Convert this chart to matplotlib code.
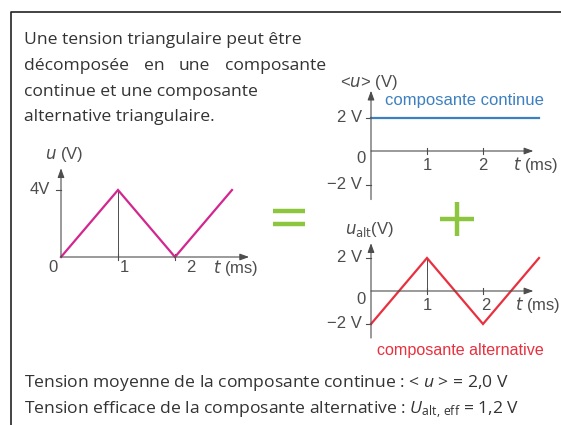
import matplotlib
matplotlib.use('Agg')
import matplotlib.pyplot as plt
from matplotlib.lines import Line2D

W, H = 561, 425
plt.rcParams['mathtext.fontset'] = 'custom'
plt.rcParams['mathtext.rm'] = 'Open Sans'
plt.rcParams['mathtext.it'] = 'Open Sans:italic'

# signals: t in ms, u in V
t_tri = [0, 1, 2, 3]
u_tri = [0, 4, 0, 4]
t_dc = [0, 3]
u_dc = [2, 2]
t_alt = [0, 1, 2, 3]
u_alt = [-2, 2, -2, 2]

intro = ["Une tension triangulaire peut être",
         "décomposée en une composante",
         "continue et une composante",
         "alternative triangulaire."]
results = [r"Tension moyenne de la composante continue : < $u$ > = 2,0 V",
           r"Tension efficace de la composante alternative : $U_{\mathrm{alt,\,eff}}$ = 1,2 V"]

MAGENTA = '#d2278e'
BLUE = '#3d80c2'
RED = '#e8303e'
GREEN = '#8cc63f'
AXIS = '#4d4d4d'
TEXT = '#333333'
NARROW = ['Liberation Sans Narrow', 'Liberation Sans', 'DejaVu Sans']
BODY = ['Open Sans', 'DejaVu Sans']
BODY_SIZE = 12.6

fig = plt.figure(figsize=(W / 100, H / 100), dpi=100)
fig.patch.set_facecolor('white')


def fx(x):
    return x / W


def fy(y):
    return 1 - y / H


def panel(x0, y0, sx, sy, xlim, ylim):
    # data (0, 0) sits on pixel (x0, y0); sx, sy are pixels per unit
    left = x0 + xlim[0] * sx
    right = x0 + xlim[1] * sx
    top = y0 - ylim[1] * sy
    bottom = y0 - ylim[0] * sy
    ax = fig.add_axes([fx(left), fy(bottom), (right - left) / W, (bottom - top) / H])
    ax.set_xlim(xlim)
    ax.set_ylim(ylim)
    ax.axis('off')
    ax.sx, ax.sy = sx, sy
    return ax


def frame(ax, xmax, ymin, ymax, yticks, xticks):
    kw = dict(arrowstyle='-|>,head_length=0.55,head_width=0.2', color=AXIS,
              lw=0.8, shrinkA=0, shrinkB=0)
    ax.annotate('', xy=(xmax, 0), xytext=(0, 0), arrowprops=kw, annotation_clip=False)
    ax.annotate('', xy=(0, ymax), xytext=(0, ymin), arrowprops=kw, annotation_clip=False)
    dx = 5 / ax.sx
    dy = 3 / ax.sy
    for v in yticks:
        ax.plot([-dx, 0], [v, v], color=AXIS, lw=0.8)
    for t in xticks:
        ax.plot([t, t], [-dy, dy], color=AXIS, lw=0.8)


def label(ax, x, y, s, ha='left', size=12, color=AXIS, **kw):
    ax.text(x, y, s, ha=ha, va='center', fontsize=size, color=color,
            family=NARROW, math_fontfamily='dejavusans', **kw)


# left: triangular voltage u(t)
ax1 = panel(61, 257, 57, 16.75, (-0.6, 3.6), (-1.2, 6.6))
frame(ax1, 3.3, 0, 5.3, [4], [1, 2])
ax1.plot([1, 1], [0, 4], color=AXIS, lw=0.7)
ax1.plot(t_tri, u_tri, color=MAGENTA, lw=1.6, solid_joinstyle='miter')
label(ax1, -0.28, 6.1, r"$u$ (V)")
label(ax1, -0.2, 4, "4V", ha='right')
label(ax1, -0.06, -0.65, "0", ha='right')
label(ax1, 1.11, -0.65, "1", ha='center')
label(ax1, 2.28, -0.65, "2", ha='center')
label(ax1, 2.67, -0.65, r"$t$ (ms)")

# top right: DC component
ax2 = panel(371, 151, 56, 16.75, (-0.7, 3.4), (-3.2, 4.6))
frame(ax2, 2.9, -2.9, 3.6, [2, -2], [1, 2])
ax2.plot(t_dc, u_dc, color=BLUE, lw=1.6)
label(ax2, -0.55, 4.1, r"<$u$> (V)")
label(ax2, 0.25, 3.0, "composante continue", size=12, color=BLUE)
label(ax2, -0.16, 2, "2 V", ha='right')
label(ax2, -0.1, -0.45, "0", ha='right')
label(ax2, -0.16, -2, "−2 V", ha='right')
label(ax2, 1, -0.85, "1", ha='center')
label(ax2, 2, -0.85, "2", ha='center')
label(ax2, 2.54, -0.85, r"$t$ (ms)")

# bottom right: AC component
ax3 = panel(371, 291, 56, 16.5, (-0.7, 3.4), (-4.2, 4.3))
frame(ax3, 2.9, -2.85, 2.9, [2, -2], [1, 2])
ax3.plot([1, 1], [0, 2], color=AXIS, lw=0.7)
ax3.plot(t_alt, u_alt, color=RED, lw=1.6, solid_joinstyle='miter')
label(ax3, -0.46, 3.7, r"$u_\mathrm{alt}$(V)")
label(ax3, -0.16, 2, "2 V", ha='right')
label(ax3, -0.1, -0.5, "0", ha='right')
label(ax3, -0.16, -2, "−2 V", ha='right')
label(ax3, 1, -0.85, "1", ha='center')
label(ax3, 2.05, -0.85, "2", ha='center')
label(ax3, 2.57, -0.85, r"$t$ (ms)")
label(ax3, 0.1, -3.6, "composante alternative", size=11.6, color=RED)

# "=" and "+" signs
for yy in (211, 224):
    fig.add_artist(Line2D([fx(273), fx(305)], [fy(yy), fy(yy)], color=GREEN,
                          lw=3.2, solid_capstyle='butt'))
fig.add_artist(Line2D([fx(440), fx(474)], [fy(219), fy(219)], color=GREEN,
                      lw=3.2, solid_capstyle='butt'))
fig.add_artist(Line2D([fx(457), fx(457)], [fy(202), fy(236)], color=GREEN,
                      lw=3.2, solid_capstyle='butt'))

# frame around the box
fig.add_artist(Line2D([fx(11), fx(11), fx(561)], [fy(425), fy(12), fy(12)],
                      color='#222222', lw=1.2))

# intro paragraph; second line justified
renderer = fig.canvas.get_renderer()
rows = [40, 66, 92, 117]
for i, (line, yy) in enumerate(zip(intro, rows)):
    if i == 1:
        words = line.split()
        objs = [fig.text(0, fy(yy), w, fontsize=BODY_SIZE, family=BODY, color=TEXT,
                         va='center') for w in words]
        widths = [o.get_window_extent(renderer).width for o in objs]
        gap = (326 - 24 - sum(widths)) / (len(words) - 1)
        xx = 24
        for o, w in zip(objs, widths):
            o.set_x(fx(xx))
            xx += w + gap
    else:
        fig.text(fx(24), fy(yy), line, fontsize=BODY_SIZE, family=BODY, color=TEXT,
                 va='center')

for line, yy in zip(results, [383, 410]):
    fig.text(fx(24), fy(yy), line, fontsize=BODY_SIZE, family=BODY, color=TEXT,
             va='center', math_fontfamily='custom')

fig.savefig('out.png', dpi=100, facecolor='white')
